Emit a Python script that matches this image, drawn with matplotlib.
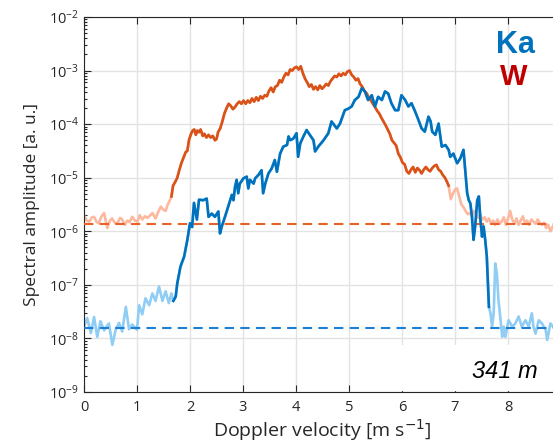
import numpy as np
import matplotlib
matplotlib.use("Agg")
import matplotlib.pyplot as plt
from matplotlib.patches import Rectangle
from matplotlib.ticker import LogLocator, NullFormatter

plt.rcParams['font.family'] = ['Open Sans', 'DejaVu Sans']

# ---------------- data (log10 of spectral amplitude) ----------------
w_vel = [0.00, 0.05, 0.10, 0.15, 0.19, 0.24, 0.28, 0.33, 0.38, 0.41, 0.44, 0.49, 0.53, 0.58,
         0.63, 0.68, 0.72, 0.77, 0.82, 0.86, 0.91, 0.96, 1.01, 1.05, 1.10, 1.15, 1.20, 1.25,
         1.29, 1.35, 1.40, 1.45, 1.50, 1.54, 1.58, 1.62, 1.65,
         1.68, 1.72, 1.76, 1.80, 1.84, 1.88, 1.92, 1.95, 1.98, 2.02, 2.05, 2.08, 2.11, 2.14,
         2.17, 2.20, 2.24, 2.27, 2.31, 2.35, 2.39, 2.43, 2.47, 2.50, 2.53, 2.57, 2.61, 2.65,
         2.69, 2.73, 2.77, 2.81, 2.85, 2.89, 2.93, 2.97, 3.01, 3.05, 3.09, 3.13, 3.17, 3.21,
         3.25, 3.29, 3.33, 3.37, 3.41, 3.45, 3.49, 3.53, 3.57, 3.61, 3.65, 3.69, 3.73, 3.77,
         3.81, 3.85, 3.89, 3.93, 3.97, 4.01, 4.05, 4.09, 4.13, 4.17, 4.21, 4.25, 4.29, 4.33,
         4.37, 4.41, 4.45, 4.49, 4.53, 4.57, 4.61, 4.65, 4.69, 4.73, 4.77, 4.81, 4.85, 4.89,
         4.93, 4.97, 5.01, 5.05, 5.09, 5.13, 5.17, 5.21, 5.25, 5.29, 5.33, 5.37, 5.41, 5.45,
         5.49, 5.53, 5.57, 5.61, 5.65, 5.69, 5.73, 5.77, 5.81, 5.85, 5.89, 5.93, 5.97, 6.01,
         6.05, 6.09, 6.13, 6.17, 6.21, 6.25, 6.29, 6.33, 6.37, 6.41, 6.45, 6.49, 6.53, 6.57,
         6.61, 6.65, 6.69, 6.73, 6.77, 6.81, 6.85, 6.88,
         6.92, 6.96, 7.00, 7.04, 7.08, 7.12, 7.16, 7.20, 7.24, 7.28, 7.32, 7.36, 7.40, 7.44,
         7.48, 7.52, 7.56, 7.60, 7.64, 7.68, 7.72, 7.76, 7.80, 7.84, 7.88, 7.92, 7.96, 8.00,
         8.04, 8.08, 8.12, 8.16, 8.20, 8.24, 8.28, 8.32, 8.36, 8.40, 8.44, 8.48, 8.52, 8.56,
         8.60, 8.64, 8.68, 8.72, 8.76, 8.80, 8.84, 8.90]
w_log = [-5.70, -5.80, -5.82, -5.74, -5.73, -5.83, -5.85, -5.72, -5.66, -5.80, -5.94, -5.80, -5.76, -5.84,
         -5.85, -5.75, -5.78, -5.88, -5.80, -5.83, -5.73, -5.80, -5.82, -5.70, -5.78, -5.72, -5.75, -5.70,
         -5.66, -5.76, -5.64, -5.54, -5.60, -5.62, -5.50, -5.42, -5.35,
         -5.15, -5.08, -5.00, -4.85, -4.72, -4.62, -4.52, -4.50, -4.30, -4.18, -4.12, -4.10, -4.20, -4.12,
         -4.15, -4.10, -4.22, -4.18, -4.25, -4.20, -4.25, -4.22, -4.30, -4.28, -4.15, -4.08, -3.95, -3.80,
         -3.70, -3.62, -3.66, -3.72, -3.68, -3.62, -3.58, -3.62, -3.56, -3.62, -3.56, -3.60, -3.52, -3.58,
         -3.50, -3.56, -3.48, -3.52, -3.46, -3.48, -3.38, -3.32, -3.40, -3.30, -3.28, -3.18, -3.22, -3.12,
         -3.05, -3.08, -2.98, -3.00, -2.95, -2.93, -2.98, -2.92, -3.05, -3.15, -3.22, -3.30, -3.26, -3.35,
         -3.30, -3.36, -3.28, -3.34, -3.30, -3.25, -3.28, -3.20, -3.15, -3.10, -3.12, -3.06, -3.10, -3.05,
         -3.08, -3.02, -3.00, -3.08, -3.12, -3.18, -3.15, -3.25, -3.30, -3.38, -3.42, -3.50, -3.55, -3.62,
         -3.68, -3.75, -3.80, -3.88, -3.95, -4.02, -4.10, -4.18, -4.30, -4.35, -4.40, -4.55, -4.62, -4.72,
         -4.75, -4.88, -4.92, -4.85, -4.80, -4.90, -4.82, -4.86, -4.92, -4.85, -4.80, -4.85, -4.88, -4.82,
         -4.78, -4.76, -4.85, -4.88, -4.95, -5.00, -5.08, -5.15,
         -5.40, -5.30, -5.22, -5.20, -5.35, -5.50, -5.55, -5.62, -5.68, -5.66, -5.72, -5.62, -5.68, -5.75,
         -5.70, -5.78, -5.74, -5.82, -5.76, -5.86, -5.80, -5.88, -5.78, -5.86, -5.82, -5.74, -5.88, -5.76,
         -5.62, -5.78, -5.85, -5.76, -5.88, -5.80, -5.72, -5.85, -5.80, -5.88, -5.78, -5.82, -5.86, -5.78,
         -5.84, -5.88, -5.84, -5.94, -5.88, -6.00, -5.92, -5.85]
w_signal = (1.65, 6.88)
w_noise_log = -5.87

ka_vel = [0.00, 0.06, 0.13, 0.19, 0.25, 0.31, 0.38, 0.47, 0.535, 0.60, 0.66, 0.72, 0.79, 0.85,
          0.91, 1.00, 1.04, 1.10, 1.16, 1.23, 1.29, 1.35, 1.415, 1.48, 1.54, 1.60, 1.65, 1.685,
          1.73, 1.76, 1.82, 1.89, 1.95, 2.00, 2.04, 2.075, 2.13, 2.17, 2.25, 2.315, 2.35, 2.41,
          2.47, 2.535, 2.566, 2.60, 2.66, 2.72, 2.79, 2.82, 2.85, 2.88, 2.91, 2.94, 3.01, 3.07,
          3.10, 3.13, 3.20, 3.23, 3.29, 3.35, 3.38, 3.42, 3.48, 3.54, 3.60, 3.64, 3.70, 3.76,
          3.83, 3.86, 3.89, 3.95, 4.01, 4.04, 4.08, 4.14, 4.20, 4.26, 4.33, 4.36, 4.42, 4.52,
          4.61, 4.67, 4.77, 4.83, 4.92, 4.99, 5.05, 5.11, 5.18, 5.24, 5.30, 5.36, 5.43, 5.49,
          5.55, 5.62, 5.68, 5.74, 5.80, 5.87, 5.93, 5.99, 6.06, 6.12, 6.18, 6.25, 6.31, 6.37,
          6.43, 6.50, 6.54, 6.57, 6.63, 6.69, 6.75, 6.82, 6.88, 6.91, 6.97, 7.04, 7.10, 7.16,
          7.23, 7.26, 7.29, 7.32, 7.35, 7.38, 7.42, 7.45, 7.48, 7.51, 7.54, 7.57, 7.60, 7.64,
          7.67, 7.70, 7.73, 7.76, 7.79, 7.82, 7.86, 7.89, 7.92, 7.95, 8.01, 8.08, 8.14, 8.20,
          8.26, 8.33, 8.39, 8.45, 8.48, 8.52, 8.58, 8.64, 8.71, 8.74, 8.80, 8.85, 8.90]
ka_log = [-7.78, -7.62, -7.90, -7.60, -7.97, -7.68, -7.85, -7.72, -8.12, -7.83, -7.71, -7.87, -7.41, -7.83,
          -7.74, -7.84, -7.38, -7.55, -7.25, -7.38, -7.16, -7.30, -7.03, -7.30, -7.12, -7.34, -7.16, -7.30,
          -7.22, -6.97, -6.66, -6.47, -6.16, -5.85, -5.92, -5.47, -5.78, -5.41, -5.42, -5.39, -5.73, -5.67,
          -5.73, -5.63, -6.04, -5.91, -5.73, -5.54, -5.32, -5.42, -5.17, -5.04, -5.29, -5.11, -5.01, -4.98,
          -5.20, -5.04, -5.11, -5.01, -4.95, -4.86, -5.29, -5.11, -4.92, -4.83, -4.67, -4.89, -4.55, -4.42,
          -4.39, -4.23, -4.30, -4.27, -4.17, -4.61, -4.36, -4.23, -4.11, -4.20, -4.30, -4.51, -4.42, -4.30,
          -4.17, -3.95, -4.08, -3.99, -3.74, -3.71, -3.67, -3.55, -3.49, -3.33, -3.39, -3.55, -3.46, -3.67,
          -3.49, -3.55, -3.39, -3.43, -3.61, -3.74, -3.74, -3.46, -3.55, -3.67, -3.61, -3.77, -3.92, -4.08,
          -4.14, -3.86, -3.95, -4.14, -4.20, -3.99, -4.42, -4.39, -4.48, -4.61, -4.55, -4.73, -4.64, -4.48,
          -5.29, -5.42, -5.48, -5.73, -6.16, -5.91, -5.42, -5.35, -5.79, -6.10, -5.91, -6.16, -6.47, -7.41,
          -7.53, -7.78, -7.53, -6.60, -6.79, -7.28, -7.66, -7.97, -7.78, -7.97, -7.66, -7.78, -7.72, -7.59,
          -7.78, -7.66, -7.78, -7.53, -7.78, -7.91, -7.66, -7.72, -7.84, -8.03, -7.72, -7.78, -7.80]
ka_signal = (1.685, 7.64)
ka_noise_log = -7.80

# ---------------- figure ----------------
fig = plt.figure(figsize=(5.53, 4.43), dpi=100)
ax = fig.add_axes([84/553, 51/443, 477/553, 375/443])

axcol = '#262626'
for name, sig, noise, vel, lg, dark, light, dash in [
        ('W', w_signal, w_noise_log, w_vel, w_log, '#D95319', '#FDB89E', '#E8602A'),
        ('Ka', ka_signal, ka_noise_log, ka_vel, ka_log, '#0072BD', '#8FCDF5', '#1B7FD6')]:
    v = np.array(vel)
    a = 10.0 ** np.array(lg)
    ax.plot(v, a, color=light, lw=1.9, zorder=2, solid_joinstyle='round')
    m = (v >= sig[0]) & (v <= sig[1])
    ax.axhline(10.0 ** noise, color=dash, lw=1.5, ls=(0, (4.5, 3)), zorder=3)
    ax.plot(v[m], a[m], color=dark, lw=1.9, zorder=4, solid_joinstyle='round')

ax.set_yscale('log')
ax.set_ylim(1e-9, 1e-2)
ax.set_xlim(0, 9)
ax.set_xticks(range(0, 9))
ax.yaxis.set_major_locator(LogLocator(base=10, numticks=10))
ax.yaxis.set_minor_locator(LogLocator(base=10, subs=np.arange(2, 10), numticks=20))
ax.yaxis.set_minor_formatter(NullFormatter())

ax.set_axisbelow(True)
ax.grid(True, which='major', color='#E3E3E3', lw=1.0)
ax.tick_params(which='both', direction='in', top=True, right=False, colors=axcol,
               labelsize=10.5, width=0.8)
ax.tick_params(which='major', length=5)
ax.tick_params(axis='x', which='major', pad=6)
ax.tick_params(which='minor', length=2.5)
for s in ['left', 'bottom', 'top']:
    ax.spines[s].set_color(axcol)
    ax.spines[s].set_linewidth(0.8)
ax.spines['right'].set_visible(False)

ax.set_xlabel('Doppler velocity [m s$^{-1}$]', fontsize=14, color=axcol, labelpad=1)
ax.set_ylabel('Spectral amplitude [a. u.]', fontsize=12.5, color=axcol, labelpad=6)

ax.add_patch(Rectangle((0.62, 0.002), 0.38, 0.123, transform=ax.transAxes,
                       facecolor='white', edgecolor='none', zorder=1))
ax.text(0.883, 0.056, '341 m', transform=ax.transAxes, fontsize=17, style='italic',
        family=['Liberation Sans', 'DejaVu Sans'], color='black', ha='center', va='center', zorder=6)

fig.text(516/553, 1 - 45/443, 'Ka', fontsize=22, fontweight='bold', color='#0072BD',
         family=['Liberation Sans', 'DejaVu Sans'], ha='center', va='center')
fig.text(514/553, 1 - 77/443, 'W', fontsize=21, fontweight='bold', color='#C00000',
         family=['Liberation Sans', 'DejaVu Sans'], ha='center', va='center')

fig.savefig('out.png', dpi=100)
